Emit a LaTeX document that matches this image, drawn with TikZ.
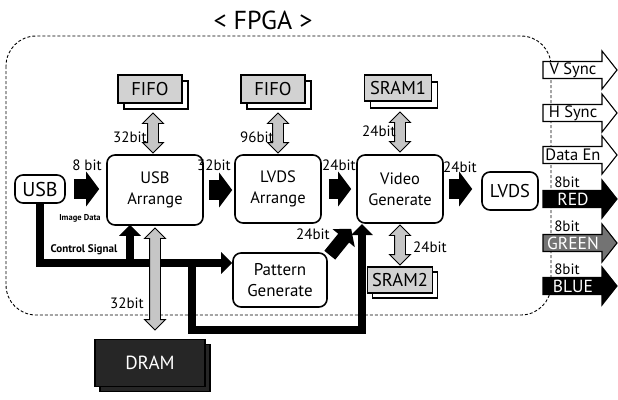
\documentclass[tikz,border=0pt]{standalone}
\usepackage{fontspec}
\setmainfont{PT Sans}
\usetikzlibrary{arrows.meta,shapes.arrows,calc}

% draws one output signal: #1 = y, #2 = arrow style, #3 = text style, #4 = text, #5 = node name
\newcommand\sigarrow[5]{%
  \begin{scope}[shift={(0,#1)}]
    \draw[#2] (543,-8.5) -- (602,-8.5) -- (602,-19) -- (617,0) -- (602,19) -- (602,8.5) -- (543,8.5) -- cycle;
    \node[#3] (#5) at (573,0) {#4};
  \end{scope}}

\begin{document}
\begin{tikzpicture}[x=1pt,y=-1pt,
  box/.style={draw, line width=1.6pt, rounded corners=8pt, fill=white, align=center,
    inner sep=0pt, font=\fontsize{16.5}{21}\selectfont},
  memfront/.style={draw, line width=1.3pt, fill=gray!35, inner sep=0pt,
    font=\fontsize{18.5}{20}\selectfont},
  memback/.style={draw, line width=1.3pt, fill=white, inner sep=0pt},
  dbl/.style={double arrow, draw, line width=0.9pt, fill=gray!45, inner xsep=0pt,
    inner ysep=5pt, double arrow head extend=5pt, rotate=90},
  blk/.style={line width=20pt, -{Triangle[length=13pt,width=34pt]}},
  ctl/.style={line width=8.5pt, -{Triangle[length=11pt,width=21pt]}},
  bitlbl/.style={font=\fontsize{15}{16}\selectfont, inner sep=0pt},
  sighollow/.style={draw=black, fill=white, line width=1.1pt},
  sigdark/.style={draw=black, fill=black, line width=1.1pt},
  siggray/.style={draw=black, fill=black!55, line width=1.1pt},
  sigtext/.style={font=\fontsize{16.5}{17}\selectfont, inner sep=0pt},
  sigwhite/.style={font=\fontsize{17.5}{18}\selectfont, inner sep=0pt, text=white}
]
\useasboundingbox (0,0) rectangle (618,399);

% title and FPGA boundary
\node[font=\fontsize{26}{28}\selectfont] (title) at (263,20) {< FPGA >};
\draw[line width=0.9pt, dash pattern=on 3pt off 2pt, rounded corners=30pt] (6,36) rectangle (551,315);

% main blocks
\node[box, minimum width=50pt, minimum height=28pt, font=\fontsize{20}{22}\selectfont] (usb) at (40,189) {USB};
\node[box, minimum width=96pt, minimum height=70pt] (usbarr) at (155,190) {USB\\Arrange};
\node[box, minimum width=86pt, minimum height=68pt] (lvdsarr) at (278,189) {LVDS\\Arrange};
\node[box, minimum width=86pt, minimum height=68pt] (vid) at (400,189) {Video\\Generate};
\node[box, minimum width=56pt, minimum height=38pt, font=\fontsize{18.5}{20}\selectfont] (lvds) at (510,191) {LVDS};
\node[box, minimum width=94pt, minimum height=54pt, font=\fontsize{17}{21}\selectfont] (pat) at (280,280) {Pattern\\Generate};

% memories (stacked boxes)
\node[memback, minimum width=64pt, minimum height=28pt] (fifo1b) at (156,95) {};
\node[memfront, minimum width=64pt, minimum height=28pt] (fifo1) at (150,89) {FIFO};
\node[memback, minimum width=64pt, minimum height=28pt] (fifo2b) at (279,95) {};
\node[memfront, minimum width=64pt, minimum height=28pt] (fifo2) at (273,89) {FIFO};
\node[memback, minimum width=67pt, minimum height=26pt] (sram1b) at (404,95) {};
\node[memfront, minimum width=67pt, minimum height=26pt] (sram1) at (398,88) {SRAM1};
\node[memback, minimum width=65pt, minimum height=26pt] (sram2b) at (405,285) {};
\node[memfront, minimum width=65pt, minimum height=26pt] (sram2) at (400,280) {SRAM2};
\node[memback, fill=black!85, minimum width=110pt, minimum height=47pt] (dramb) at (155,368) {};
\node[memfront, fill=black!85, text=white, minimum width=110pt, minimum height=47pt,
  font=\fontsize{19}{20}\selectfont] (dram) at (150,363) {DRAM};

% data path block arrows
\draw[blk] ([xshift=8pt]usb.east) -- ([xshift=-7pt]usb.east -| usbarr.west);
\draw[blk] ([xshift=5pt]usbarr.east) -- ([xshift=-2pt]usbarr.east -| lvdsarr.west);
\draw[blk] ([xshift=7pt]lvdsarr.east) -- ([xshift=-5pt]lvdsarr.east -| vid.west);
\draw[blk] ([xshift=5pt]vid.east) -- ([xshift=-9pt]vid.east -| lvds.west);
\draw[line width=14pt, -{Triangle[length=12pt,width=28pt]}] ([shift={(2,3)}]pat.north east) -- ([shift={(-5,5)}]vid.south west);

% control signal bus
\coordinate (cbus) at (40,263);
\coordinate (cbr) at (130,263);
\coordinate (lp1) at (192,263);
\coordinate (lp2) at (192,330);
\coordinate (vidin) at (362,224);
\draw[ctl] (usb.south) -- (cbus) -- (cbus -| pat.west);
\draw[ctl, shorten >=-1pt] (cbr) -- (cbr |- usbarr.south);
\draw[line width=8.5pt] (lp1) -- (lp2) -- (lp2 -| vidin) -- ++(0,-4);
\draw[ctl] (lp2 -| vidin) -- (vidin);

% memory buses
\node[dbl, minimum height=40pt] (bf1) at (153,133) {};
\node[dbl, minimum height=40pt] (bf2) at (278,133) {};
\node[dbl, minimum height=40pt] (bs1) at (400,132) {};
\node[dbl, minimum height=40pt] (bs2) at (400,245) {};
\node[dbl, minimum height=102pt] (bd) at (155,279) {};

% bus widths
\node[bitlbl] (l8) at (87,165) {8 bit};
\node[bitlbl] (l32a) at (214,165) {32bit};
\node[bitlbl] (l24a) at (339,165) {24bit};
\node[bitlbl] (l24b) at (460,167) {24bit};
\node[bitlbl] (l32f) at (130,137) {32bit};
\node[bitlbl] (l96) at (257,137) {96bit};
\node[bitlbl] (l24s1) at (379,131) {24bit};
\node[bitlbl] (l24s2) at (430,247) {24bit};
\node[bitlbl] (l24p) at (313,234) {24bit};
\node[bitlbl] (l32d) at (127,303) {32bit};
\node[font=\fontsize{8.5}{9}\selectfont\bfseries, inner sep=0pt] (imgdata) at (80,218) {Image Data};
\node[font=\fontsize{11}{12}\selectfont\bfseries, inner sep=0pt] (ctlsig) at (84,250) {Control Signal};

% output signals
\sigarrow{70}{sighollow}{sigtext}{V Sync}{vsync}
\sigarrow{113}{sighollow}{sigtext}{H Sync}{hsync}
\sigarrow{155}{sighollow}{sigtext}{Data En}{dataen}
\sigarrow{199}{sigdark}{sigwhite}{RED}{red}
\sigarrow{243}{siggray}{sigwhite}{GREEN}{green}
\sigarrow{286}{sigdark}{sigwhite}{BLUE}{blue}
\node[bitlbl] (r8) at (567,182) {8bit};
\node[bitlbl] (g8) at (567,226) {8bit};
\node[bitlbl] (b8) at (567,269) {8bit};
\end{tikzpicture}
\end{document}
